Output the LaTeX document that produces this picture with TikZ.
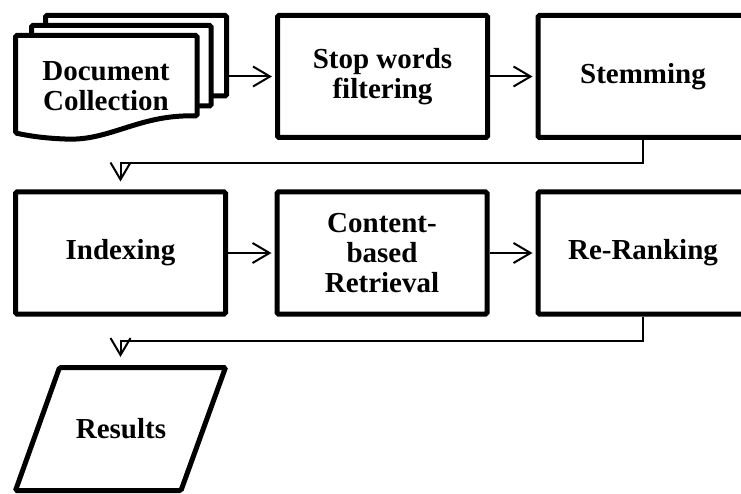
\documentclass[tikz,border=0pt]{standalone}
\usepackage{fontspec}
\setmainfont{Liberation Serif}
\usetikzlibrary{arrows.meta}
\begin{document}
\begin{tikzpicture}[x=1pt,y=-1pt,
  txt/.style={align=center,font=\fontsize{29}{30}\selectfont\bfseries,inner sep=0pt},
  box/.style={txt,draw,line width=5pt,minimum width=210pt,minimum height=122pt,rounded corners=1.5pt},
  sheet/.style={draw,fill=white,line width=5pt,rounded corners=1.5pt,inner sep=0pt},
  conn/.style={line width=2pt,-{Straight Barb[length=17pt,width=20pt,line width=2pt]}}]
\useasboundingbox (0,0) rectangle (741,494);
% document stack
\node[sheet,minimum width=181pt,minimum height=80.5pt] (back) at (136,55.75) {};
\node[sheet,minimum width=179.5pt,minimum height=80.5pt] (mid) at (121.25,65.75) {};
\draw[sheet] (15.5,35.5) -- (197,35.5) -- (197,116)
  .. controls (140,114) and (110,141) .. (65,139)
  .. controls (40,138) and (25,135) .. (15.5,133) -- cycle;
\node[txt] (doc) at (106,86) {Document\\Collection};
% process boxes
\node[box] (stop) at (382.5,76.5) {Stop words\\filtering};
\node[box] (stem) at (643,76.5) {Stemming};
\node[box] (idx) at (120.5,253) {Indexing};
\node[box] (cbr) at (382,253) {Content-\\based\\Retrieval};
\node[box] (rr) at (643,253) {Re-Ranking};
% results
\draw[line width=5pt,rounded corners=1.5pt] (59.5,367.5) -- (225.5,367.5) -- (181,490.5) -- (15.5,490.5) -- cycle;
\node[txt] (res) at (121,429) {Results};
\coordinate (restop) at (120.5,365);
% connectors
\draw[conn,shorten >=3pt] (back.east |- stop.west) -- (stop.west);
\draw[conn,shorten >=3pt] (stop.east) -- (stem.west);
\draw[conn,shorten >=8pt] (stem.south) -- ++(0,23) -| (idx.north);
\draw[conn,shorten >=3pt] (idx.east) -- (cbr.west);
\draw[conn,shorten >=3pt] (cbr.east) -- (rr.west);
\draw[conn,shorten >=8pt] (rr.south) -- ++(0,24.5) -| (restop);
\end{tikzpicture}
\end{document}
